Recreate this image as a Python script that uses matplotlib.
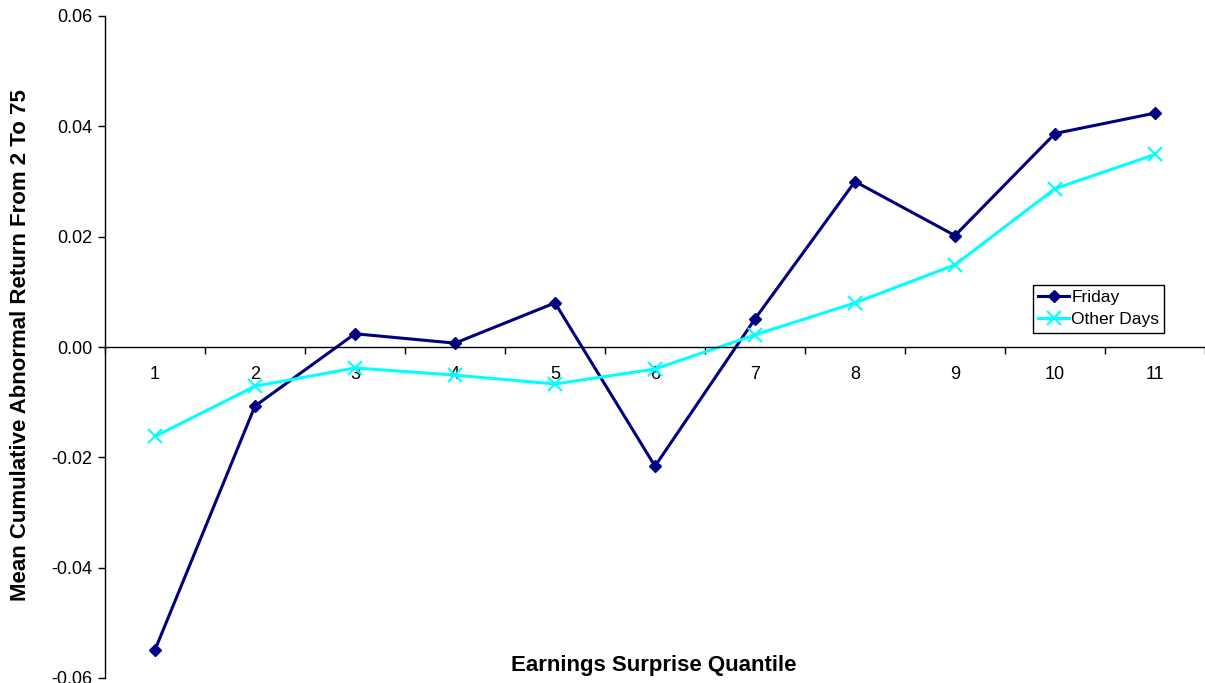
import matplotlib
matplotlib.use("Agg")
import matplotlib.pyplot as plt
import numpy as np

# Earnings surprise quantiles
quantiles = [1, 2, 3, 4, 5, 6, 7, 8, 9, 10, 11]

# Mean cumulative abnormal return, day 2 to 75
friday = [-0.0549, -0.0107, 0.0024, 0.0007, 0.0080, -0.0216,
          0.0051, 0.0300, 0.0202, 0.0387, 0.0424]
other_days = [-0.0162, -0.0071, -0.0038, -0.0051, -0.0067, -0.0040,
              0.0022, 0.0080, 0.0149, 0.0287, 0.0349]

y_ticks = [-0.06, -0.04, -0.02, 0.00, 0.02, 0.04, 0.06]

plt.rcParams['font.family'] = ['Liberation Sans', 'DejaVu Sans']

fig = plt.figure(figsize=(12.05, 6.83), dpi=100)
ax = fig.add_axes([105 / 1205, 1 - 678 / 683, 1100 / 1205, 662 / 683])

ax.plot(quantiles, friday, color='#000080', lw=2.2, marker='D', ms=6.5,
        label='Friday')
ax.plot(quantiles, other_days, color='#00FFFF', lw=2.2, marker='x', ms=10,
        mew=1.5, label='Other Days')

ax.set_xlim(0.5, 11.5)
ax.set_ylim(-0.06, 0.06)

# spines: left axis plus a horizontal axis through zero
ax.spines['top'].set_visible(False)
ax.spines['right'].set_visible(False)
ax.spines['bottom'].set_position(('data', 0))
ax.spines['left'].set_linewidth(1)
ax.spines['bottom'].set_linewidth(1)

ax.set_yticks(y_ticks)
ax.set_yticklabels(['%.2f' % v for v in y_ticks])
ax.tick_params(axis='y', direction='out', length=5, width=1, labelsize=13, pad=4)

ax.set_xticks(quantiles)
ax.set_xticklabels([str(q) for q in quantiles])
ax.set_xticks(np.arange(0.5, 12, 1), minor=True)
ax.tick_params(axis='x', which='major', length=0, labelsize=13, pad=14)
ax.tick_params(axis='x', which='minor', direction='out', length=5, width=1)

fig.text(654 / 1205, 1 - 665 / 683, 'Earnings Surprise Quantile',
         ha='center', va='center', fontsize=16, fontweight='bold')
fig.text(21 / 1205, 1 - 345 / 683, 'Mean Cumulative Abnormal Return From 2 To 75',
         ha='center', va='center', rotation=90, fontsize=16, fontweight='bold')

leg = ax.legend(loc='upper left', bbox_to_anchor=((1033 - 105) / 1100, 1 - (285 - 16) / 662),
                fontsize=12.5, frameon=True, fancybox=False, framealpha=1,
                edgecolor='black', borderpad=0.3, labelspacing=0.4,
                handlelength=1.8, handletextpad=0.1, borderaxespad=0)
leg.get_frame().set_linewidth(1)

fig.savefig('out.png', dpi=100)
